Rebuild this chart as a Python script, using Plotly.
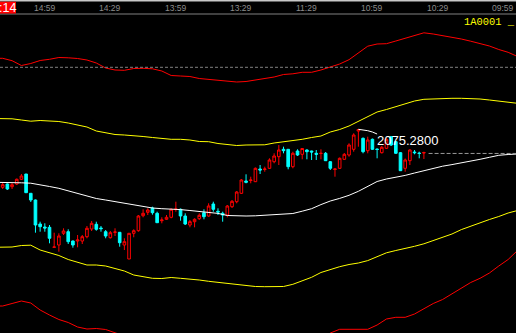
import plotly.graph_objects as go

# ---------------- data ----------------
time_labels = ["14:59", "14:29", "13:59", "13:29", "11:29", "10:59", "10:29", "09:59"]
time_tick_idx = [9, 23, 37, 51, 65, 79, 93, 107]   # candle index under each label

symbol = "1A0001 _"
corner_text = ":14"
last_price = 2075.28
ref_price = 2118.35

candle_idx = list(range(91))
open_ = [2058.35, 2060, 2058.65, 2060, 2062.35, 2065, 2055.35, 2052, 2040, 2038.5,
         2038.35, 2028.35, 2029.5, 2035.35, 2036.15, 2031.5, 2031.5, 2031.5, 2033.65, 2037.5,
         2039.85, 2038, 2036.15, 2033.15, 2035.85, 2035.85, 2029.5, 2022.5, 2035.35, 2036.65,
         2044.15, 2045.85, 2048, 2045.35, 2041.65, 2042.35, 2043.35, 2047.25, 2047.35, 2044,
         2039.5, 2041.15, 2042.65, 2045.65, 2044, 2050, 2046.35, 2045.35, 2044.5, 2048.65,
         2051.15, 2055.35, 2061.5, 2061.75, 2061.15, 2067.5, 2067.25, 2067.85, 2071.15, 2073.65,
         2077.35, 2077.35, 2068.65, 2076.5, 2074.85, 2077, 2076.5, 2075.35, 2075.25, 2075.35,
         2071.15, 2067.25, 2067.85, 2072.35, 2074.5, 2077.35, 2086.5, 2082.85, 2076.65, 2082.35,
         2077.5, 2075.65, 2077.85, 2083.65, 2081.15, 2075.65, 2067.85, 2071.65, 2076, 2075.5,
         2075.5]
high = [2060.5, 2060.25, 2060.5, 2062.75, 2065, 2065, 2055.5, 2052.25, 2041.15, 2040.35,
        2039.5, 2035.65, 2035.35, 2037.85, 2037.35, 2031.75, 2034.5, 2034.5, 2039, 2041.5,
        2041.15, 2039, 2037, 2036.5, 2037.85, 2036, 2032.85, 2035.5, 2037.35, 2044.5,
        2047.35, 2047.85, 2048.65, 2046.15, 2043.35, 2044.5, 2047.85, 2051.15, 2047.75, 2045.35,
        2042, 2042.85, 2045.35, 2047.35, 2050.35, 2051.15, 2047.85, 2046.15, 2049.5, 2052,
        2056.5, 2062.5, 2064.85, 2063.65, 2068.25, 2069.5, 2068.65, 2072.85, 2075.35, 2079.5,
        2078.65, 2077.5, 2076.15, 2077.35, 2077.85, 2077.35, 2076.65, 2077, 2077.35, 2076,
        2071.5, 2067.85, 2073.25, 2075.5, 2080.35, 2085.35, 2087.35, 2083.25, 2083.65, 2082.75,
        2077.75, 2079, 2083, 2084, 2081.5, 2076, 2072.75, 2077.35, 2077, 2076.15,
        2076.15]
low = [2057.5, 2057, 2057.5, 2059.5, 2062, 2055.5, 2051, 2035.65, 2036.15, 2036.15,
       2030.35, 2028.25, 2026.15, 2034.5, 2030, 2028.15, 2028.35, 2030, 2032.85, 2036.5,
       2036.65, 2036.15, 2032.85, 2032.75, 2034, 2028.65, 2027, 2022.5, 2033.35, 2036.15,
       2043.35, 2044.5, 2044.65, 2040.5, 2040.35, 2042, 2042.85, 2046.15, 2041.65, 2039.5,
       2038.35, 2038.35, 2042, 2042.35, 2043.65, 2046.15, 2044.5, 2041.15, 2043.35, 2048,
       2050.35, 2055, 2060.35, 2060.35, 2061, 2065, 2066.15, 2067.5, 2070.35, 2069.5,
       2075.35, 2067.35, 2067.85, 2074, 2072.35, 2072.35, 2072, 2072, 2072.35, 2071.5,
       2067, 2063.65, 2067.5, 2072, 2073.65, 2076.15, 2078.65, 2075.35, 2075.35, 2077,
       2072.85, 2075.25, 2077.5, 2079, 2075, 2066.5, 2066.15, 2069.5, 2074.85, 2072.85,
       2072.5]
close = [2059.65, 2057.5, 2059.65, 2062.35, 2064, 2055.65, 2052, 2039.5, 2038.65, 2038,
         2032.85, 2028.5, 2034, 2036.5, 2031.15, 2029.5, 2032, 2033.65, 2037.85, 2040.35,
         2037.35, 2037.65, 2034, 2035.65, 2036, 2030.65, 2031.15, 2035.35, 2036.65, 2044,
         2045.35, 2047, 2045.65, 2040.65, 2042, 2043.35, 2047.35, 2047.5, 2044, 2040,
         2041.15, 2042.35, 2044.35, 2043.65, 2049, 2047.35, 2046, 2044.5, 2049, 2051.35,
         2056, 2062, 2060.85, 2062, 2067.85, 2067, 2067.5, 2072, 2074, 2077,
         2076.65, 2068.65, 2075.35, 2074.5, 2077.75, 2076.15, 2076, 2074.85, 2075.35, 2071.65,
         2067.85, 2067.5, 2072.85, 2074.85, 2079.5, 2084.5, 2087.25, 2076.15, 2082, 2077.35,
         2077.25, 2078.35, 2082.35, 2079.5, 2075.35, 2066.65, 2072, 2077, 2075.65, 2075.25,
         2075.7]

# indicator lines, sampled every 2 candle slots (slots -2 .. 110)
line_idx = list(range(-2, 111, 2))
ma_mid = [2060.85, 2060.85, 2060.75, 2060.6, 2060.4, 2059.75, 2058.75, 2057.85, 2056.5, 2055.1,
          2054, 2052.75, 2052, 2051.25, 2050.5, 2049.7, 2048.85, 2048, 2047.65, 2047.6,
          2047.2, 2046.75, 2046.2, 2045.85, 2045.3, 2044.25, 2044, 2044, 2044.1, 2044.35,
          2044.6, 2044.9, 2045.25, 2046.4, 2047.65, 2049.7, 2051.5, 2052.8, 2054.35, 2056.35,
          2058.75, 2061.25, 2062.5, 2063.3, 2064.3, 2065.5, 2066.65, 2067.8, 2068.9, 2069.7,
          2070.5, 2071.4, 2072.35, 2073.35, 2074.35, 2074.75, 2075]
band_up = [2092.75, 2092.75, 2092.6, 2092, 2091.4, 2091.75, 2091.5, 2091.25, 2090.5, 2089.5,
           2088.5, 2086.5, 2085.5, 2084.75, 2084.5, 2084.25, 2083.75, 2083.25, 2082.75, 2082.35,
           2082.35, 2082, 2081.25, 2081.15, 2080.25, 2079.9, 2079.25, 2079.5, 2079.5, 2079.6,
           2080.5, 2081.15, 2081.5, 2082.35, 2083.25, 2084, 2086, 2087.25, 2089, 2091.25,
           2093.75, 2096, 2097.25, 2098.75, 2100, 2101.5, 2102.35, 2102.6, 2102.75, 2102.85,
           2102.85, 2102.85, 2102.5, 2102, 2101.5, 2101, 2100.35]
band_dn = [2028.35, 2028.35, 2028.5, 2029.25, 2029.4, 2027, 2025.5, 2024.25, 2022.25, 2020.75,
           2019.5, 2019.5, 2019, 2017.75, 2016.5, 2014.5, 2013.5, 2012.85, 2012.75, 2013.25,
           2012.85, 2012.6, 2012, 2011.35, 2010.85, 2010.4, 2009.85, 2009.2, 2008.75, 2008.65,
           2008.6, 2008.75, 2009.85, 2011.5, 2013.35, 2015.75, 2017.35, 2018.65, 2019.75, 2020.5,
           2021.7, 2023.85, 2025.6, 2026.75, 2027.7, 2028.85, 2030.1, 2031.7, 2033.3, 2035,
           2037.2, 2039, 2040.5, 2042.25, 2043.75, 2045.5, 2046.75]
outer_up = [2122.85, 2122.85, 2121.65, 2119.25, 2120.25, 2121.75, 2122.35, 2123.25, 2123.1, 2122.75,
            2122, 2120.5, 2118, 2117, 2116.85, 2117.75, 2117.85, 2117.6, 2116.5, 2114.25,
            2114, 2113.75, 2112.75, 2112.35, 2111.85, 2111.5, 2111, 2111.25, 2112, 2112.6,
            2113.5, 2114.75, 2115.1, 2115.85, 2115.85, 2117, 2118.35, 2120, 2122.15, 2125.5,
            2128.9, 2130, 2130.15, 2131.5, 2132.85, 2134.25, 2135.6, 2135, 2134.2, 2133.35,
            2132.5, 2131.4, 2130.25, 2129, 2127.25, 2125.85, 2123.75]
outer_dn = [1999, 1999, 2000.25, 2001.5, 2000.5, 1997, 1994.5, 1992.25, 1990.75, 1988.5,
            1987.5, 1987.75, 1987.25, 1985.75, 1984, 1982, 1980, 1978.5, 1978.75, 1981,
            1980.5, 1979.75, 1979.5, 1979.35, 1978.75, 1977, 1977, 1976.75, 1976.25, 1976.1,
            1975.7, 1975, 1975.5, 1977, 1979.5, 1982.5, 1985.5, 1987.35, 1987.35, 1987.35,
            1987.35, 1989.5, 1992.5, 1993.35, 1993.35, 1995, 1997.5, 2000.25, 2002.25, 2005,
            2007.75, 2010.75, 2012.85, 2015.5, 2019, 2022.25, 2026.75]

# short white segment near the session high
peak_idx = [76, 77, 78, 79, 80]
peak_line = [2087.35, 2087.1, 2086.65, 2086, 2085]

# ---------------- figure ----------------
W, H = 516, 333
RED, CYAN, YEL, WHITE, GREY = "#ff0000", "#00ffff", "#ffff00", "#ffffff", "#808080"

fig = go.Figure()

def add_line(xs, ys, color):
    fig.add_trace(go.Scatter(x=xs, y=ys, mode="lines", line=dict(color=color, width=1),
                             hoverinfo="skip", showlegend=False))

add_line(line_idx, outer_up, RED)
add_line(line_idx, outer_dn, RED)
add_line(line_idx, band_up, YEL)
add_line(line_idx, band_dn, YEL)
add_line(line_idx, ma_mid, WHITE)
add_line(peak_idx, peak_line, WHITE)

fig.add_trace(go.Candlestick(
    x=candle_idx, open=open_, high=high, low=low, close=close,
    increasing=dict(line=dict(color=RED, width=1), fillcolor="#000000"),
    decreasing=dict(line=dict(color=CYAN, width=1), fillcolor=CYAN),
    whiskerwidth=0, showlegend=False, hoverinfo="skip"))

x_lo = -0.577
x_hi = 109.68

shapes = [
    # reference dashed line
    dict(type="line", xref="paper", x0=0, x1=1, yref="y", y0=ref_price, y1=ref_price,
         line=dict(color=GREY, width=1, dash="3px,2px")),
    # last price dashed line
    dict(type="line", xref="x", x0=len(candle_idx), x1=x_hi, yref="y", y0=last_price, y1=last_price,
         line=dict(color="#9a9a9a", width=1, dash="4px,2px")),
    # header lines
    dict(type="line", xref="paper", x0=0, x1=1, yref="paper", y0=1 - 0.8 / H, y1=1 - 0.8 / H,
         line=dict(color="#c8c8c8", width=1.5)),
    dict(type="line", xref="paper", x0=0, x1=1, yref="paper", y0=1 - 14 / H, y1=1 - 14 / H,
         line=dict(color=GREY, width=1)),
    dict(type="rect", xref="paper", x0=0, x1=16 / W, yref="paper", y0=1 - 13.5 / H, y1=1 - 1.7 / H,
         fillcolor=RED, line=dict(width=0)),
]

annotations = []
for lab, xi in zip(time_labels, time_tick_idx):
    annotations.append(dict(text=lab, x=xi, xref="x", y=1 - 8.3 / H, yref="paper",
                            xanchor="center", yanchor="middle", showarrow=False,
                            borderpad=0, borderwidth=0,
                            font=dict(family="Liberation Sans", size=8.5, color="#8c8c8c")))
annotations.append(dict(text=corner_text, x=15.8 / W, xref="paper", y=1 - 8 / H, yref="paper",
                        xanchor="right", yanchor="middle", showarrow=False, borderpad=0, borderwidth=0,
                        font=dict(family="Liberation Sans", size=12.5, color=WHITE)))
annotations.append(dict(text=symbol, x=464 / W, xref="paper", y=1 - 22.5 / H, yref="paper",
                        xanchor="left", yanchor="middle", showarrow=False, borderpad=0, borderwidth=0,
                        font=dict(family="Liberation Mono", size=10.4, color=YEL)))
annotations.append(dict(text=f"{last_price:.4f}", x=376.5 / W, xref="paper", y=2081.75, yref="y",
                        xanchor="left", yanchor="middle", showarrow=False, borderpad=0, borderwidth=0,
                        font=dict(family="Liberation Sans", size=13, color=WHITE)))

fig.update_layout(
    width=W, height=H, margin=dict(l=0, r=0, t=0, b=0),
    paper_bgcolor="#000000", plot_bgcolor="#000000",
    boxgap=0.2,
    xaxis=dict(range=[x_lo, x_hi], visible=False, rangeslider=dict(visible=False), fixedrange=True),
    yaxis=dict(range=[1985.5, 2152], visible=False, fixedrange=True),
    shapes=shapes, annotations=annotations, showlegend=False,
)

fig.write_html("out.html")
